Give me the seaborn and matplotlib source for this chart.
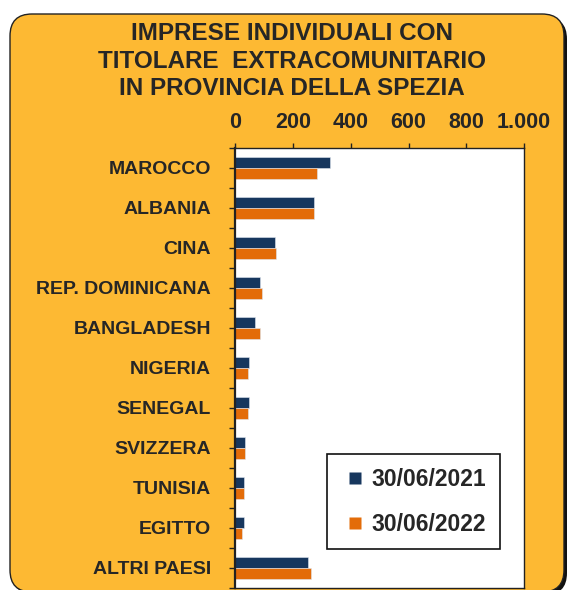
import numpy as np
import pandas as pd
import seaborn as sns
import matplotlib.pyplot as plt
from matplotlib.lines import Line2D
from matplotlib.patches import FancyBboxPatch
from matplotlib.ticker import FixedLocator, FuncFormatter


# data
paesi = ["MAROCCO", "ALBANIA", "CINA", "REP. DOMINICANA", "BANGLADESH",
         "NIGERIA", "SENEGAL", "SVIZZERA", "TUNISIA", "EGITTO", "ALTRI PAESI"]
val_2021 = [327, 273, 139, 84, 70, 48, 48, 35, 30, 30, 252]
val_2022 = [282, 273, 140, 94, 84, 44, 44, 35, 30, 24, 261]
periodi = ["30/06/2021", "30/06/2022"]
x_ticks = [0, 200, 400, 600, 800, 1000]

titolo = "IMPRESE INDIVIDUALI CON\nTITOLARE  EXTRACOMUNITARIO\nIN PROVINCIA DELLA SPEZIA"

colori = ["#17375E", "#E36C09"]
sfondo = "#FDB933"


def build_frame():
    rows = []
    for p, v in zip(paesi, val_2021):
        rows.append({"paese": p, "periodo": periodi[0], "imprese": v})
    for p, v in zip(paesi, val_2022):
        rows.append({"paese": p, "periodo": periodi[1], "imprese": v})
    return pd.DataFrame(rows)


def main():
    data = build_frame()

    sns.set_theme(style="ticks")
    plt.rcParams["font.family"] = ["Liberation Sans", "DejaVu Sans"]

    fig = plt.figure(figsize=(5.71, 5.90), dpi=100)
    fig.patch.set_facecolor("white")

    # rounded orange panel with a dark shadow
    shadow = FancyBboxPatch((0.13, -0.05), 5.54, 5.78,
                            boxstyle="round,pad=0,rounding_size=0.22",
                            transform=fig.dpi_scale_trans,
                            facecolor="#111111", edgecolor="none", zorder=-11)
    panel = FancyBboxPatch((0.10, -0.02), 5.54, 5.78,
                           boxstyle="round,pad=0,rounding_size=0.22",
                           transform=fig.dpi_scale_trans,
                           facecolor=sfondo, edgecolor="#222222",
                           linewidth=1.0, zorder=-10)
    fig.add_artist(shadow)
    fig.add_artist(panel)

    ax = fig.add_axes([0.412, 0.0034, 0.506, 0.7458])
    ax.set_facecolor("white")

    sns.barplot(data=data, x="imprese", y="paese", hue="periodo",
                order=paesi, hue_order=periodi, palette=colori, saturation=1,
                orient="h", width=0.55, edgecolor="#dfe6f0", linewidth=0.4,
                ax=ax)

    ax.set_xlim(0, 1000)
    ax.set_ylim(len(paesi) - 0.5, -0.5)
    ax.set_xlabel("")
    ax.set_ylabel("")

    ax.xaxis.tick_top()
    ax.xaxis.set_major_locator(FixedLocator(x_ticks))
    ax.xaxis.set_major_formatter(FuncFormatter(lambda v, _: f"{int(v):,}".replace(",", ".")))
    ax.tick_params(axis="x", direction="out", length=3.5, width=1, color="#222222",
                   pad=7, labelsize=15.5)
    for lab in ax.get_xticklabels():
        lab.set_fontweight("bold")

    ax.yaxis.set_minor_locator(FixedLocator(np.arange(-0.5, len(paesi), 1.0)))
    ax.tick_params(axis="y", which="major", direction="out", length=4, width=1,
                   color="#222222", pad=13.5, labelsize=14)
    ax.tick_params(axis="y", which="minor", direction="out", length=4.5, width=1,
                   color="#222222")
    for lab in ax.get_yticklabels():
        lab.set_fontweight("bold")

    for side in ["left", "right", "top", "bottom"]:
        ax.spines[side].set_visible(True)
        ax.spines[side].set_color("#222222")
        ax.spines[side].set_linewidth(1.0)
    ax.spines["left"].set_linewidth(1.6)

    # square legend keys like the original
    handles = [Line2D([], [], linestyle="none", marker="s", markersize=8.5,
                      markerfacecolor=c, markeredgecolor="none") for c in colori]
    ax.get_legend().remove()
    leg = ax.legend(handles, periodi, loc="upper left", bbox_to_anchor=(0.318, 0.3045),
                    frameon=True, fancybox=False, framealpha=1,
                    edgecolor="#111111", prop={"weight": "bold", "size": 16.5},
                    handlelength=1.25, handletextpad=0.1,
                    labelspacing=0.95, borderpad=0.6, borderaxespad=0)
    leg.get_frame().set_linewidth(1.2)

    fig.text(0.511, 1 - 61 / 590, titolo, ha="center", va="center",
             fontsize=17.5, fontweight="bold", linespacing=1.23)

    fig.savefig("out.png", dpi=100)
    plt.close(fig)


if __name__ == "__main__":
    main()
